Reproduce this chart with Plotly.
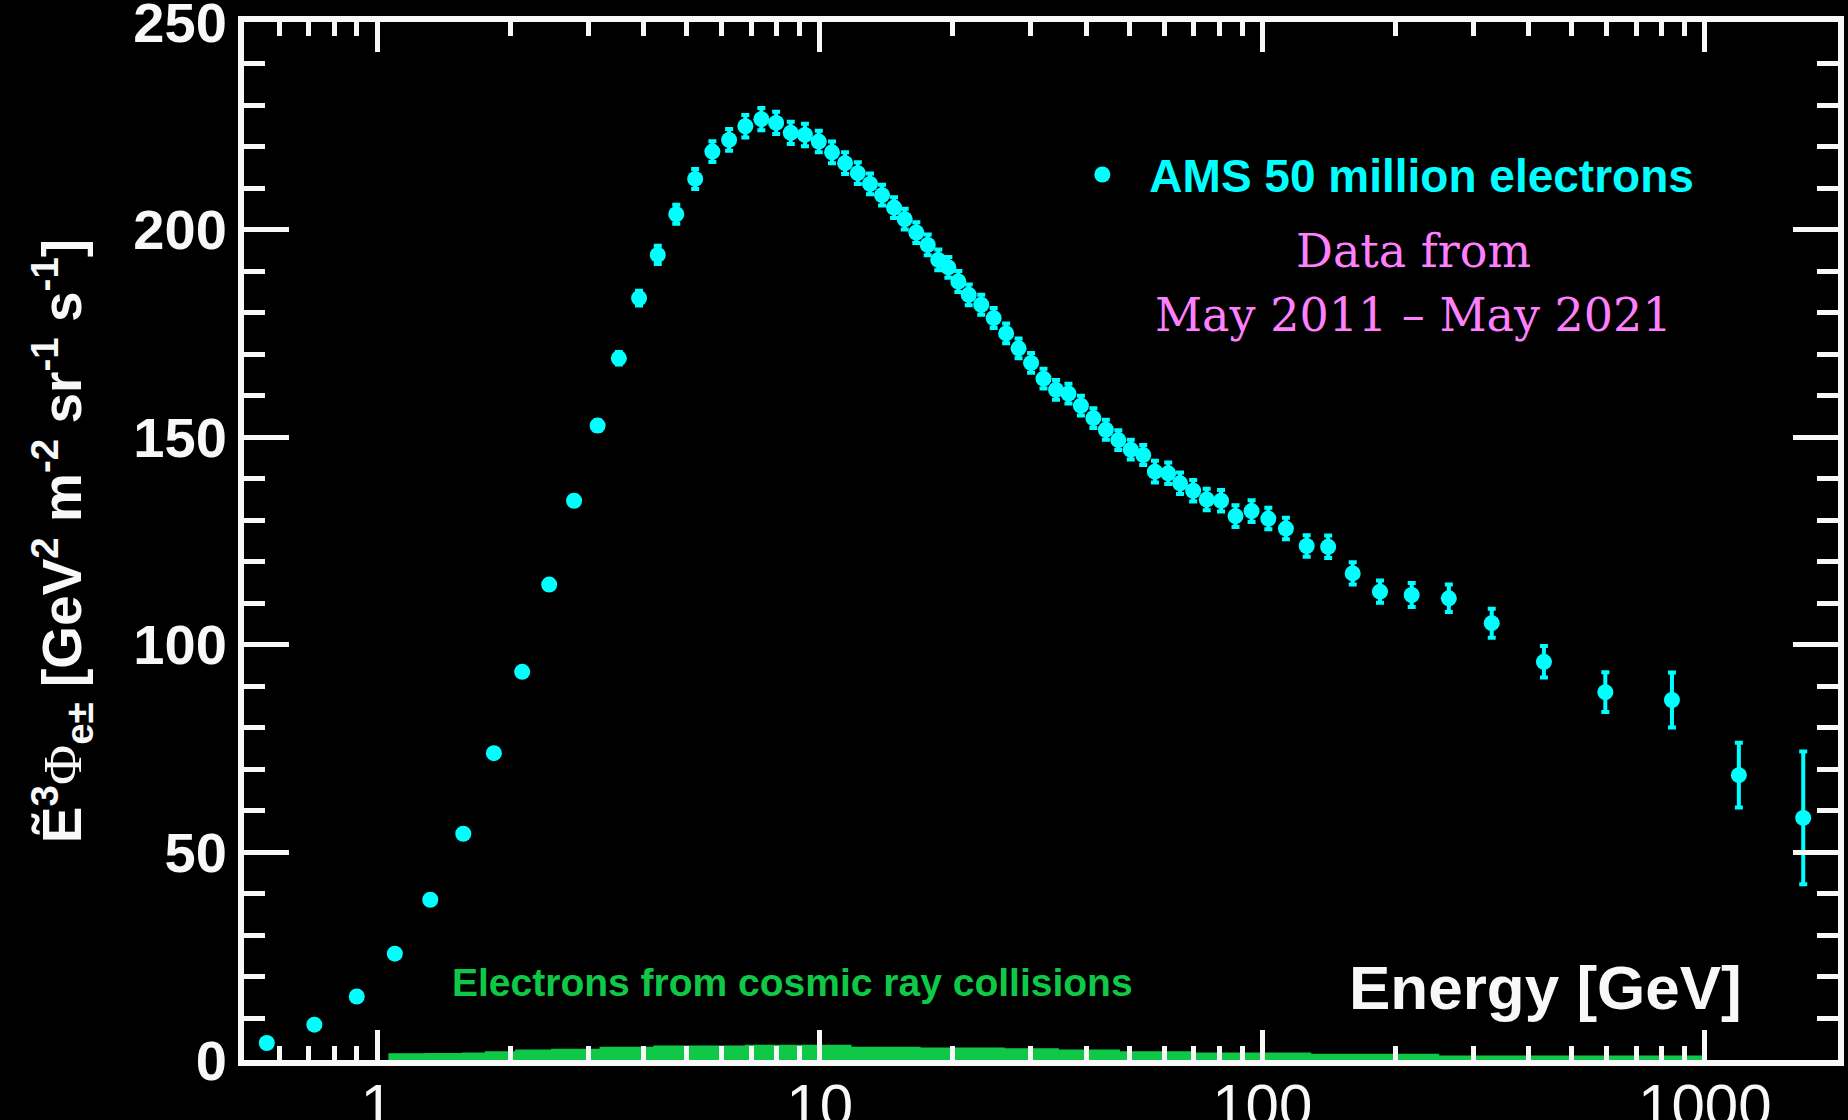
import math
import plotly.graph_objects as go

# AMS electron flux (E^3 x flux) measurement
energy_gev = [0.563, 0.721, 0.899, 1.096, 1.318, 1.565, 1.835, 2.126, 2.447, 2.785,
              3.148, 3.516, 3.906, 4.305, 4.74, 5.23, 5.72, 6.24, 6.79, 7.38,
              7.97, 8.60, 9.26, 9.95, 10.66, 11.41, 12.19, 12.99, 13.83, 14.72,
              15.56, 16.53, 17.54, 18.53, 19.53, 20.57, 21.71, 23.17, 24.72, 26.38,
              28.14, 30.03, 32.04, 34.19, 36.48, 38.92, 41.53, 44.31, 47.28, 50.45,
              53.83, 57.2, 61.3, 65.2, 69.8, 74.9, 80.7, 87.0, 94.6, 103.2,
              113.1, 126.0, 140.9, 160.1, 184.5, 217.6, 264.0, 330.0, 433.0, 596.0,
              843.0, 1194.0, 1669.0]
flux_e3 = [4.1, 8.5, 15.3, 25.6, 38.6, 54.5, 73.9, 93.5, 114.5, 134.7,
           152.8, 169.0, 183.5, 193.9, 203.7, 212.2, 218.8, 221.6, 224.9, 226.6,
           225.7, 223.3, 222.8, 221.2, 218.6, 216.0, 213.6, 211.0, 208.3, 205.3,
           202.5, 199.3, 196.3, 192.7, 190.9, 187.5, 184.3, 181.9, 178.7, 175.0,
           171.4, 167.9, 164.1, 161.4, 160.5, 157.6, 154.6, 151.8, 149.3, 147.0,
           145.7, 141.7, 141.3, 138.9, 137.1, 135.0, 134.7, 131.0, 132.2, 130.4,
           128.0, 123.8, 123.6, 117.2, 112.8, 112.0, 111.2, 105.2, 95.9, 88.6,
           86.7, 68.6, 58.3]
flux_err = [0.3, 0.4, 0.5, 0.6, 0.7, 0.8, 0.9, 1.0, 1.1, 1.2,
            1.3, 1.5, 1.8, 2.2, 2.3, 2.4, 2.5, 2.6, 2.7, 2.7,
            2.7, 2.7, 2.7, 2.6, 2.6, 2.6, 2.6, 2.5, 2.5, 2.5,
            2.5, 2.5, 2.5, 2.5, 2.5, 2.5, 2.5, 2.4, 2.4, 2.4,
            2.4, 2.4, 2.4, 2.4, 2.4, 2.4, 2.4, 2.4, 2.4, 2.4,
            2.4, 2.6, 2.6, 2.6, 2.6, 2.6, 2.6, 2.6, 2.6, 2.6,
            2.6, 2.6, 2.7, 2.7, 2.7, 2.9, 3.3, 3.5, 3.8, 4.8,
            6.6, 7.8, 16.0]

# Secondary electrons from cosmic ray collisions (step band)
secondary_energy = [1.06, 1.28, 1.55, 1.75, 2.05, 2.47, 3.18, 4.21, 6.78, 11.8,
                    16.9, 26.2, 34.7, 47.7, 70.8, 129.0, 251.0, 1000.0]
secondary_flux = [1.6, 1.7, 1.8, 2.1, 2.5, 2.7, 3.2, 3.5, 3.7, 3.2,
                  3.0, 2.8, 2.5, 2.1, 1.8, 1.5, 1.1, 1.0]

x_major = [1, 10, 100, 1000]
x_major_text = ["1", "10", "100", "1000"]
x_minor = [m * 10 ** d for d in range(-1, 4) for m in range(2, 10)
           if 0.5 <= m * 10 ** d <= 2000]

WHITE = "#f8f8f8"
CYAN = "#00ffff"
GREEN = "#10c848"
PINK = "#ff80ff"
SANS = "Liberation Sans, Arial, sans-serif"

fig = go.Figure()

fig.add_trace(go.Scatter(
    x=secondary_energy, y=secondary_flux,
    mode="lines", line=dict(shape="hv", width=0, color=GREEN),
    fill="tozeroy", fillcolor=GREEN, showlegend=False, hoverinfo="skip",
))

fig.add_trace(go.Scatter(
    x=energy_gev, y=flux_e3,
    mode="markers", name="AMS 50 million electrons",
    marker=dict(color=CYAN, size=16, line=dict(width=0)),
    error_y=dict(type="data", array=flux_err, color=CYAN, thickness=4, width=4),
))

axis_common = dict(
    showline=True, linewidth=6, linecolor=WHITE,
    ticks="inside", tickwidth=5, tickcolor=WHITE,
    mirror="allticks", showgrid=False, zeroline=False,
    ticklabeloverflow="allow",
)

fig.update_layout(
    width=1848, height=1120,
    margin=dict(l=244, r=10, t=22, b=60, autoexpand=False),
    paper_bgcolor="black", plot_bgcolor="black",
    xaxis=dict(
        type="log", range=[math.log10(0.5), math.log10(2000)],
        tickmode="array", tickvals=x_major, ticktext=x_major_text,
        ticklen=30, ticklabelstandoff=-12,
        tickfont=dict(family=SANS, size=60, color=WHITE),
        minor=dict(tickmode="array", tickvals=x_minor, ticks="inside",
                   ticklen=14, tickwidth=5, tickcolor=WHITE, showgrid=False),
        **axis_common,
    ),
    yaxis=dict(
        range=[0, 250], tickmode="linear", tick0=0, dtick=50,
        ticklen=45,
        tickfont=dict(family=SANS, size=56, color=WHITE, weight="bold"),
        minor=dict(dtick=10, ticks="inside", ticklen=21, tickwidth=5,
                   tickcolor=WHITE, showgrid=False),
        title=dict(
            text=("Ẽ<sup>3</sup><span style='font-family:Liberation Serif;font-weight:normal'>Φ</span>"
                  "<sub>e±</sub> [GeV<sup>2</sup> m<sup>-2</sup> sr<sup>-1</sup> s<sup>-1</sup>]"),
            font=dict(family=SANS, size=55, color=WHITE, weight="bold"),
            standoff=36,
        ),
        **axis_common,
    ),
    legend=dict(
        x=0.509, y=0.853, xanchor="left", yanchor="middle",
        bgcolor="rgba(0,0,0,0)", borderwidth=0, itemwidth=84,
        font=dict(family=SANS, size=46, color=CYAN, weight="bold"),
    ),
    annotations=[
        dict(text="Data from", x=0.734, y=0.779, xref="paper", yref="paper",
             showarrow=False, xanchor="center", yanchor="middle",
             font=dict(family="DejaVu Serif", size=46, color=PINK)),
        dict(text="May 2011 – May 2021", x=0.734, y=0.7177, xref="paper", yref="paper",
             showarrow=False, xanchor="center", yanchor="middle",
             font=dict(family="DejaVu Serif", size=46, color=PINK)),
        dict(text="Electrons from cosmic ray collisions", x=0.3444, y=0.0751,
             xref="paper", yref="paper", showarrow=False,
             xanchor="center", yanchor="middle",
             font=dict(family=SANS, size=39, color=GREEN, weight="bold")),
        dict(text="Energy [GeV]", x=0.8162, y=0.0694, xref="paper", yref="paper",
             showarrow=False, xanchor="center", yanchor="middle",
             font=dict(family=SANS, size=62, color=WHITE, weight="bold")),
    ],
)

fig.write_html("out.html")
